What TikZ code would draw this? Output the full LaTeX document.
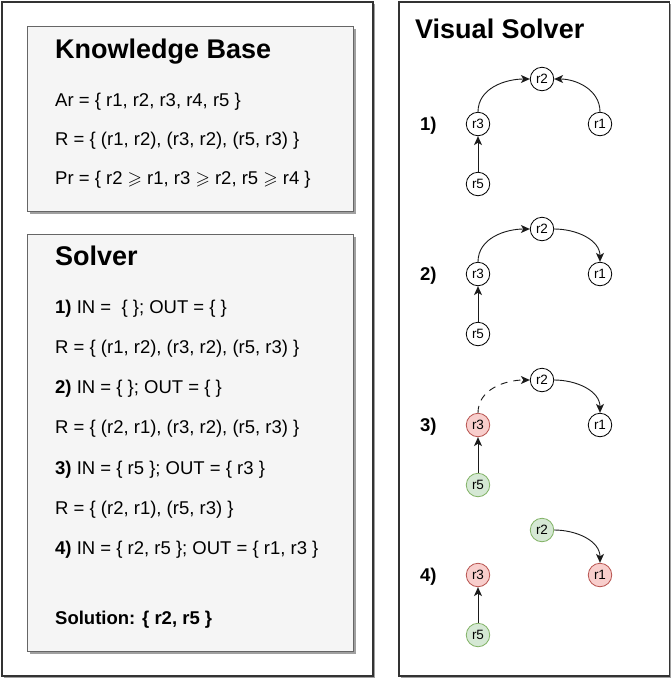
\documentclass[tikz,border=0pt]{standalone}
\usepackage{amssymb}
\usepackage{fontspec}
\setmainfont{Liberation Sans}
\usetikzlibrary{arrows.meta}
\definecolor{boxfill}{HTML}{F5F5F5}
\definecolor{boxdraw}{HTML}{666666}
\definecolor{shadowc}{HTML}{A0A0A0}
\definecolor{redfill}{HTML}{F8CECC}
\definecolor{reddraw}{HTML}{B85450}
\definecolor{greenfill}{HTML}{D5E8D4}
\definecolor{greendraw}{HTML}{82B366}
\definecolor{framec}{HTML}{333333}
\definecolor{edgec}{HTML}{1A1A1A}
\tikzset{
  titletxt/.style={anchor=base west, inner sep=0pt, font=\fontsize{27}{30}\selectfont\bfseries},
  bodytxt/.style={anchor=base west, inner sep=0pt, font=\fontsize{18.5}{22}\selectfont},
  steptxt/.style={anchor=base west, inner sep=0pt, font=\fontsize{18.5}{22}\selectfont\bfseries},
  rnode/.style={circle, draw=black, fill=white, line width=0.8pt, minimum size=23.5pt, inner sep=0pt, font=\fontsize{13.5}{13.5}\selectfont},
  innode/.style={rnode, fill=greenfill, draw=greendraw},
  outnode/.style={rnode, fill=redfill, draw=reddraw},
  edgeline/.style={line width=0.9pt, draw=edgec, -{Stealth[length=9pt,width=8pt,inset=2.5pt]}},
  panelbox/.style={fill=boxfill, draw=boxdraw, line width=0.8pt},
  panelshadow/.style={fill=shadowc, draw=none},
  frameline/.style={draw=framec, line width=1.2pt},
}
\begin{document}
\begin{tikzpicture}[x=1pt,y=-1pt]
\useasboundingbox (0,0) rectangle (671,678);
% outer frames
\draw[shadowc, line width=1.5pt] (374.6,4) -- (374.6,677.4) -- (4,677.4);
\draw[frameline] (2,2) rectangle (373,676);
\draw[shadowc, line width=1.5pt] (670.6,4) -- (670.6,677.4) -- (401,677.4);
\draw[frameline] (399,2) rectangle (669.5,676);

% Knowledge base box
\fill[panelshadow] (30,29) rectangle (356,214);
\draw[panelbox] (27,26) rectangle (353,211);
\node[titletxt] (kbtitle) at (55,58) {Knowledge Base};
\node[bodytxt] (kbar) at (55,106) {Ar = \{ r1, r2, r3, r4, r5 \}};
\node[bodytxt] (kbr) at (55,145) {R = \{ (r1, r2), (r3, r2), (r5, r3) \}};
\node[bodytxt] (kbpr) at (55,184) {Pr = \{ r2 $\geqslant$ r1, r3 $\geqslant$ r2, r5 $\geqslant$ r4 \}};

% Solver box
\fill[panelshadow] (30,237) rectangle (356,654);
\draw[panelbox] (27,234) rectangle (353,651);
\node[titletxt] (stitle) at (55,265) {Solver};
\node[bodytxt] (s1) at (55,313) {\textbf{1)} IN =\ \ \{ \}; OUT = \{ \}};
\node[bodytxt] (s1r) at (55,353) {R = \{ (r1, r2), (r3, r2), (r5, r3) \}};
\node[bodytxt] (s2) at (55,393) {\textbf{2)} IN = \{ \}; OUT = \{ \}};
\node[bodytxt] (s2r) at (55,433) {R = \{ (r2, r1), (r3, r2), (r5, r3) \}};
\node[bodytxt] (s3) at (55,474) {\textbf{3)} IN = \{ r5 \}; OUT = \{ r3 \}};
\node[bodytxt] (s3r) at (55,514) {R = \{ (r2, r1), (r5, r3) \}};
\node[bodytxt] (s4) at (55,554) {\textbf{4)} IN = \{ r2, r5 \}; OUT = \{ r1, r3 \}};
\node[bodytxt] (sol) at (55,624) {\textbf{Solution: \{ r2, r5 \}}};

% Visual solver
\node[titletxt] (vtitle) at (415,38) {Visual Solver};

% step 1
\node[steptxt] (l1) at (420,130.5) {1)};
\node[rnode] (a2) at (542,79) {r2};
\node[rnode] (a3) at (478,124) {r3};
\node[rnode] (a1) at (600,124) {r1};
\node[rnode] (a5) at (478,184) {r5};
\draw[edgeline] (a3.north) to[out=90,in=180] (a2.west);
\draw[edgeline] (a1.north) to[out=90,in=0] (a2.east);
\draw[edgeline] (a5) -- (a3);

% step 2
\node[steptxt] (l2) at (420,280.5) {2)};
\node[rnode] (b2) at (542,229) {r2};
\node[rnode] (b3) at (478,274) {r3};
\node[rnode] (b1) at (600,274) {r1};
\node[rnode] (b5) at (478,334) {r5};
\draw[edgeline] (b3.north) to[out=90,in=180] (b2.west);
\draw[edgeline] (b2.east) to[out=0,in=90] (b1.north);
\draw[edgeline] (b5) -- (b3);

% step 3
\node[steptxt] (l3) at (420,431.5) {3)};
\node[rnode] (c2) at (542,380) {r2};
\node[outnode] (c3) at (478,425) {r3};
\node[rnode] (c1) at (600,425) {r1};
\node[innode] (c5) at (478,485) {r5};
\draw[edgeline, dash pattern=on 7pt off 6pt] (c3.north) to[out=90,in=180] (c2.west);
\draw[edgeline] (c2.east) to[out=0,in=90] (c1.north);
\draw[edgeline] (c5) -- (c3);

% step 4
\node[steptxt] (l4) at (420,581.5) {4)};
\node[innode] (d2) at (542,530) {r2};
\node[outnode] (d3) at (478,575) {r3};
\node[outnode] (d1) at (600,575) {r1};
\node[innode] (d5) at (478,635) {r5};
\draw[edgeline] (d2.east) to[out=0,in=90] (d1.north);
\draw[edgeline] (d5) -- (d3);
\end{tikzpicture}
\end{document}
